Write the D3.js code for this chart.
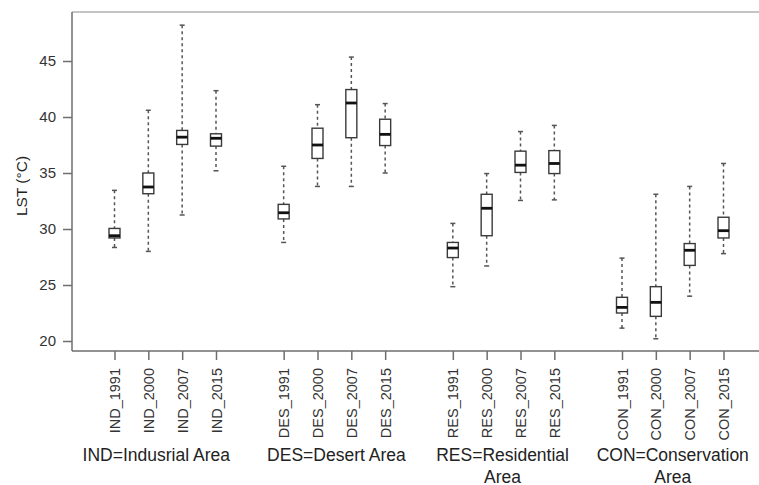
<!DOCTYPE html>
<html>
<head>
<meta charset="utf-8">
<script src="https://cdn.jsdelivr.net/npm/d3@7"></script>
<style>
  html, body { margin: 0; padding: 0; background: #fff; }
  svg { display: block; font-family: "Liberation Sans", Arial, sans-serif; }
</style>
</head>
<body>
<svg id="chart" width="759" height="485"></svg>
<script>
// ---------------- data ----------------
const groups = ["IND", "DES", "RES", "CON"];
const groupLabels = [
  ["IND=Indusrial Area"],
  ["DES=Desert Area"],
  ["RES=Residential", "Area"],
  ["CON=Conservation", "Area"]
];
const years = ["1991", "2000", "2007", "2015"];
const yTicks = [20, 25, 30, 35, 40, 45];

// per box, in order IND_1991 ... CON_2015
const whiskerLow  = [28.35, 28.0, 31.25, 35.2,  28.8, 33.8, 33.8, 35.0,  24.85, 26.7, 32.55, 32.6,  21.15, 20.2, 24.0, 27.8];
const q1          = [29.2, 33.15, 37.55, 37.4,  30.9, 36.3, 38.15, 37.45,  27.45, 29.4, 35.05, 34.95,  22.5, 22.2, 26.75, 29.2];
const medians     = [29.4, 33.75, 38.2, 38.1,  31.45, 37.5, 41.25, 38.45,  28.3, 31.85, 35.7, 35.85,  23.0, 23.45, 28.1, 29.85];
const q3          = [30.05, 35.0, 38.8, 38.5,  32.2, 39.0, 42.45, 39.8,  28.8, 33.1, 36.95, 37.0,  23.9, 24.85, 28.7, 31.05];
const whiskerHigh = [33.45, 40.6, 48.2, 42.35,  35.6, 41.1, 45.35, 41.2,  30.5, 34.95, 38.7, 39.25,  27.4, 33.1, 33.8, 35.85];

// ---------------- layout ----------------
const svg = d3.select("#chart");
const W = 759, H = 485;
const axisLeft = 72, axisBottom = 351, plotTop = 12;

const y = d3.scaleLinear().domain([20, 45]).range([341, 61]);
// slot positions: 4 boxes per group + 1 empty slot between groups
const x = d3.scaleLinear().domain([0, 18]).range([114.5, 723.5]);

const boxes = [];
groups.forEach((g, gi) => {
  years.forEach((yr, yi) => {
    const i = gi * years.length + yi;
    boxes.push({
      name: g + "_" + yr,
      slot: gi * (years.length + 1) + yi,
      lo: whiskerLow[i], q1: q1[i], med: medians[i], q3: q3[i], hi: whiskerHigh[i]
    });
  });
});

// frame: top line
svg.append("line")
  .attr("x1", axisLeft).attr("x2", W)
  .attr("y1", plotTop).attr("y2", plotTop)
  .attr("stroke", "#c4c4c4").attr("stroke-width", 2);

// y axis
const yAxisG = svg.append("g")
  .attr("transform", `translate(${axisLeft},0)`)
  .call(d3.axisLeft(y).tickValues(yTicks).tickSize(9).tickPadding(7).tickSizeOuter(0));
yAxisG.select(".domain").remove();
yAxisG.append("line")
  .attr("x1", 0).attr("x2", 0).attr("y1", plotTop).attr("y2", axisBottom)
  .attr("stroke", "#6e6e6e").attr("stroke-width", 1.5);
yAxisG.selectAll(".tick line").attr("stroke", "#6e6e6e").attr("stroke-width", 1.5);
yAxisG.selectAll(".tick text")
  .attr("fill", "#333").style("font-size", "15px")
  .style("font-family", "Liberation Sans, Arial, sans-serif");

// x axis (ticks at box slots)
const xAxisG = svg.append("g")
  .attr("transform", `translate(0,${axisBottom})`)
  .call(d3.axisBottom(x)
    .tickValues(boxes.map(b => b.slot))
    .tickFormat((d) => boxes.find(b => b.slot === d).name)
    .tickSize(9).tickSizeOuter(0));
xAxisG.select(".domain").remove();
xAxisG.append("line")
  .attr("x1", axisLeft).attr("x2", W).attr("y1", 0).attr("y2", 0)
  .attr("stroke", "#6e6e6e").attr("stroke-width", 1.5);
xAxisG.selectAll(".tick line").attr("stroke", "#6e6e6e").attr("stroke-width", 1.5);
xAxisG.selectAll(".tick text")
  .attr("fill", "#333").style("font-size", "14.5px")
  .style("font-family", "Liberation Sans, Arial, sans-serif")
  .attr("text-anchor", "end")
  .attr("dy", "0.35em")
  .attr("transform", "translate(0,17) rotate(-90)")
  .attr("x", 0).attr("y", 0);

// y axis title
svg.append("text")
  .attr("transform", "translate(27,186) rotate(-90)")
  .attr("text-anchor", "middle")
  .attr("fill", "#222")
  .style("font-size", "15.5px")
  .text("LST (°C)");

// boxes
const bw = 11, capW = 5;
const bg = svg.append("g");
boxes.forEach(b => {
  const cx = x(b.slot);
  const g = bg.append("g");
  // whiskers
  g.append("line").attr("x1", cx).attr("x2", cx).attr("y1", y(b.hi)).attr("y2", y(b.q3))
    .attr("stroke", "#555").attr("stroke-width", 1.5).attr("stroke-dasharray", "3,3");
  g.append("line").attr("x1", cx).attr("x2", cx).attr("y1", y(b.q1)).attr("y2", y(b.lo))
    .attr("stroke", "#555").attr("stroke-width", 1.5).attr("stroke-dasharray", "3,3");
  // caps
  g.append("line").attr("x1", cx - capW / 2).attr("x2", cx + capW / 2).attr("y1", y(b.hi)).attr("y2", y(b.hi))
    .attr("stroke", "#555").attr("stroke-width", 1.5);
  g.append("line").attr("x1", cx - capW / 2).attr("x2", cx + capW / 2).attr("y1", y(b.lo)).attr("y2", y(b.lo))
    .attr("stroke", "#555").attr("stroke-width", 1.5);
  // box
  g.append("rect").attr("x", cx - bw / 2).attr("width", bw)
    .attr("y", y(b.q3)).attr("height", y(b.q1) - y(b.q3))
    .attr("fill", "#fff").attr("stroke", "#3a3a3a").attr("stroke-width", 1.4);
  // median
  g.append("line").attr("x1", cx - bw / 2).attr("x2", cx + bw / 2).attr("y1", y(b.med)).attr("y2", y(b.med))
    .attr("stroke", "#111").attr("stroke-width", 2.8);
});

// group labels
const labelShift = [-9, 2, -1, 0];
groups.forEach((g, gi) => {
  const cx = (x(gi * 5) + x(gi * 5 + 3)) / 2 + labelShift[gi];
  const t = svg.append("text")
    .attr("text-anchor", "middle")
    .attr("fill", "#222")
    .style("font-size", "17.5px");
  groupLabels[gi].forEach((line, li) => {
    t.append("tspan").attr("x", cx).attr("y", 461 + li * 21.5).text(line);
  });
});
</script>
</body>
</html>
